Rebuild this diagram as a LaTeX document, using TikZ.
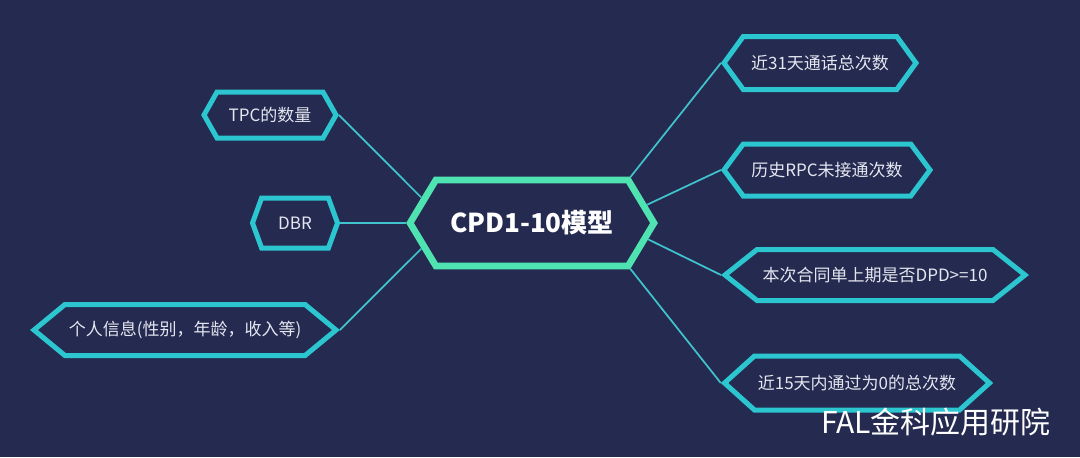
\documentclass[tikz,border=0pt]{standalone}
\usepackage{fontspec}
\setmainfont{Noto Sans CJK SC}
\usetikzlibrary{shapes.symbols}
\definecolor{bgnavy}{HTML}{252B50}
\definecolor{hexcyan}{HTML}{2BC6CF}
\definecolor{hexmint}{HTML}{4FE3B2}
\definecolor{linkcyan}{HTML}{3FC3CC}
\definecolor{labelgray}{HTML}{E4E6F0}

\begin{document}
\begin{tikzpicture}[
    x=0.75pt, y=-0.75pt,
    hexbox/.style={shape=signal, signal to=east and west, draw=hexcyan, line width=3.75pt, fill=bgnavy, text=labelgray, inner sep=0pt, font=\fontsize{12.75pt}{15pt}\selectfont},
    hexmain/.style={hexbox, draw=hexmint, line width=5pt, text=white, font=\fontsize{19.5pt}{22pt}\selectfont\bfseries},
    link/.style={draw=linkcyan, line width=1.3pt}
]
% --- background ---
\path[use as bounding box, fill=bgnavy] (0,0) rectangle (1080,457);

% --- centre node ---
\node[hexmain, minimum width=183pt, minimum height=64.5pt, signal pointer angle=118] (model) at (532,223) {CPD1-10模型};

% --- left nodes ---
\node[hexbox, minimum width=99pt, minimum height=34.5pt, signal pointer angle=121] (tpc) at (270,115) {TPC的数量};
\node[hexbox, minimum width=63.75pt, minimum height=37.5pt, signal pointer angle=140] (dbr) at (295,223) {DBR};
\node[hexbox, minimum width=226.5pt, minimum height=38.25pt, signal pointer angle=79] (info) at (185,330) {个人信息(性别，年龄，收入等)};

% --- right nodes ---
\node[hexbox, minimum width=144pt, minimum height=39.75pt, signal pointer angle=108] (call31) at (820,63) {近31天通话总次数};
\node[hexbox, minimum width=154.5pt, minimum height=39pt, signal pointer angle=107] (rpc) at (827,170) {历史RPC未接通次数};
\node[hexbox, minimum width=225pt, minimum height=38.25pt, signal pointer angle=77] (dpd) at (875,275) {本次合同单上期是否DPD>=10};
\node[hexbox, minimum width=198.75pt, minimum height=40.5pt, signal pointer angle=84] (zero15) at (857,383) {近15天内通过为0的总次数};

% --- connectors ---
\draw[link] (tpc.east) -- (model.167);
\draw[link] (dbr.east) -- (model.west);
\draw[link] (info.east) -- (model.193);
\draw[link] (call31.west) -- (model.25);
\draw[link] (rpc.west) -- (model.9);
\draw[link] (dpd.west) -- (model.352);
\draw[link] (zero15.west) -- (model.335);

% --- watermark ---
\node[text=white, font=\fontsize{22.5pt}{25pt}\selectfont, inner sep=0pt] (mark) at (936,422) {FAL金科应用研院};
\end{tikzpicture}
\end{document}
